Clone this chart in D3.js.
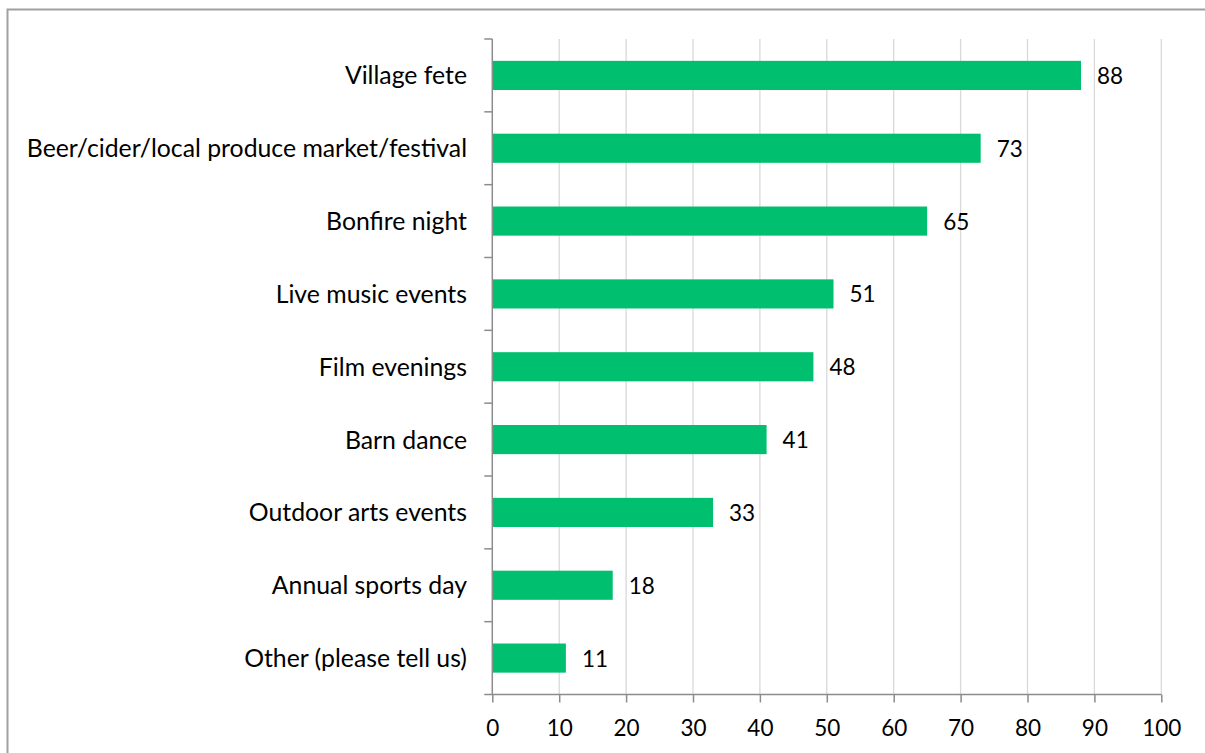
<!DOCTYPE html>
<html><head><meta charset="utf-8">
<script src="https://cdn.jsdelivr.net/npm/d3@7"></script>
<style>body{margin:0;background:#fff;} svg{display:block;}</style>
</head><body>
<script>
const categories = ["Village fete","Beer/cider/local produce market/festival","Bonfire night","Live music events","Film evenings","Barn dance","Outdoor arts events","Annual sports day","Other (please tell us)"];
const values = [88,73,65,51,48,41,33,18,11];
const xTicks = [0,10,20,30,40,50,60,70,80,90,100];

const W = 1205, H = 753;
const svg = d3.select("body").append("svg").attr("width", W).attr("height", H);
const font = "Lato, 'Open Sans', sans-serif";

svg.append("rect").attr("x",7.5).attr("y",9.5).attr("width",W+10).attr("height",H+10)
  .attr("fill","#fff").attr("stroke","#a0a0a0").attr("stroke-width",2);

const pL = 492.3, pR = 1161.3, pT = 39, pB = 694.5;
const x = d3.scaleLinear().domain([0,100]).range([pL,pR]);
const y = d3.scaleBand().domain(categories).range([pT,pB]).paddingInner(0.6).paddingOuter(0.3);
const yb = d3.scaleBand().domain(categories).range([pT,pB]);

// gridlines
svg.append("g").selectAll("line").data(xTicks.slice(1)).join("line")
  .attr("x1",d=>x(d)).attr("x2",d=>x(d)).attr("y1",pT).attr("y2",pB)
  .attr("stroke","#d9d9d9").attr("stroke-width",1.3);

// bars
svg.append("g").selectAll("rect").data(values).join("rect")
  .attr("x",x(0)).attr("y",(d,i)=>y(categories[i]))
  .attr("width",d=>x(d)-x(0)).attr("height",y.bandwidth())
  .attr("fill","#00c070");

// value labels
svg.append("g").selectAll("text").data(values).join("text")
  .attr("x",d=>x(d)+16).attr("y",(d,i)=>y(categories[i])+y.bandwidth()/2)
  .attr("dy","0.38em").attr("font-family",font).attr("font-size",22.5).attr("fill","#000")
  .text(d=>d);

// y axis line and ticks
const yAxisG = svg.append("g");
yAxisG.append("line").attr("x1",pL).attr("x2",pL).attr("y1",pT).attr("y2",pB)
  .attr("stroke","#8c8c8c").attr("stroke-width",1.5);
const boundaries = categories.map(c=>yb(c)).concat([pB]);
yAxisG.selectAll("line.t").data(boundaries).join("line").attr("class","t")
  .attr("x1",pL-8).attr("x2",pL).attr("y1",d=>d).attr("y2",d=>d)
  .attr("stroke","#8c8c8c").attr("stroke-width",1.5);
yAxisG.selectAll("text").data(categories).join("text")
  .attr("x",467).attr("y",d=>yb(d)+yb.bandwidth()/2)
  .attr("dy","0.36em").attr("text-anchor","end")
  .attr("font-family",font).attr("font-size",24.8).attr("fill","#000").text(d=>d);

// x axis
const xAxis = d3.axisBottom(x).tickValues(xTicks).tickSize(8).tickPadding(18);
const xg = svg.append("g").attr("transform",`translate(0,${pB})`).call(xAxis);
xg.select(".domain").attr("stroke","#8c8c8c").attr("stroke-width",1.5).attr("d",`M${pL},0H${pR}`);
xg.selectAll(".tick line").attr("stroke","#8c8c8c").attr("stroke-width",1.5);
xg.selectAll(".tick text").attr("font-family",font).attr("font-size",22.5).attr("fill","#000");
</script>
</body></html>
